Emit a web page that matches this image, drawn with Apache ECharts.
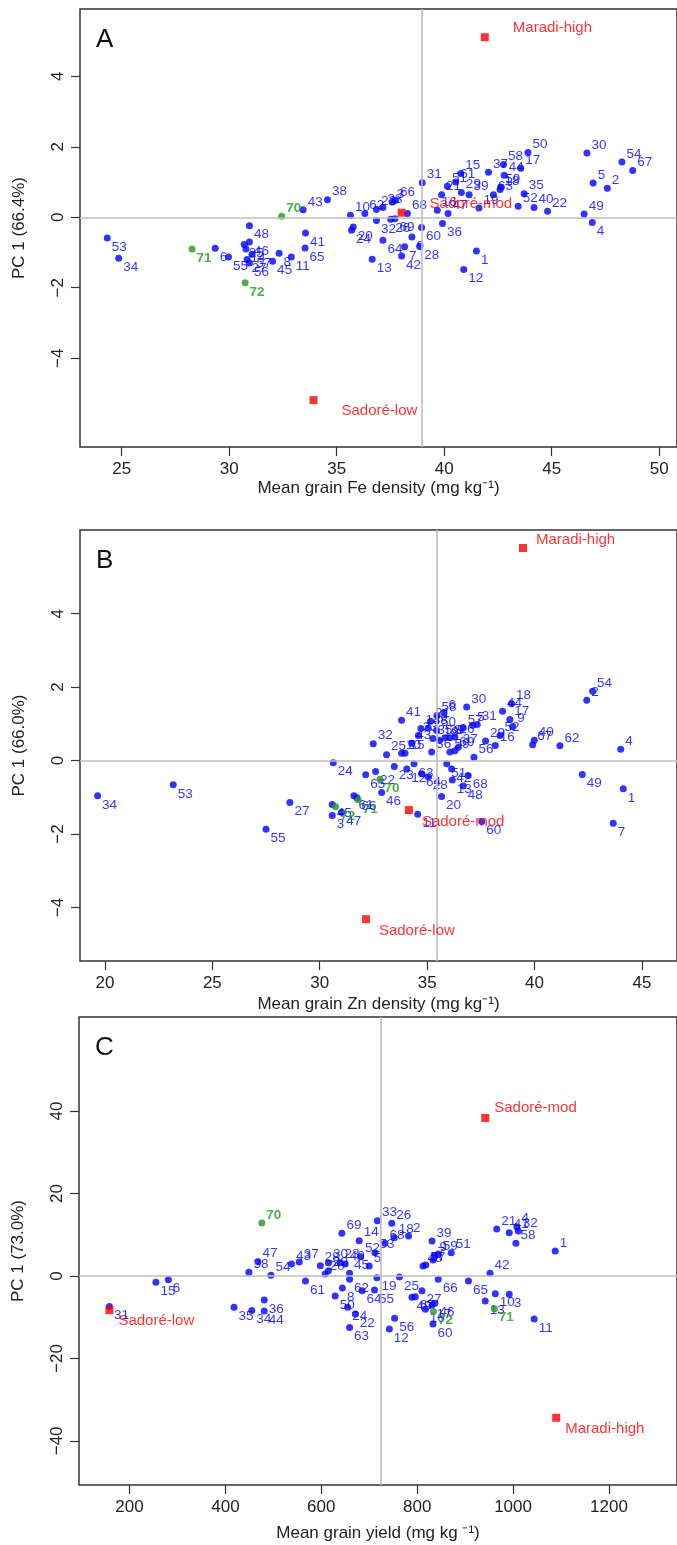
<!DOCTYPE html>
<html><head><meta charset="utf-8">
<script src="https://cdn.jsdelivr.net/npm/echarts@6/dist/echarts.min.js"></script>
<style>html,body{margin:0;padding:0;background:#fff}#c{width:677px;height:1545px}</style>
</head><body><div id="c"></div>
<script>
// ---------- data ----------
const genotype = [1,2,3,4,5,6,7,8,9,10,11,12,13,14,15,16,17,18,19,20,21,22,23,24,25,26,27,28,29,30,31,32,33,34,35,36,37,38,39,40,41,42,43,44,45,46,47,48,49,50,51,52,53,54,55,56,57,58,59,60,61,62,63,64,65,66,67,68,69,70,71,72];

// Panel A : mean grain Fe density vs PC1
const feDensity = [41.50,47.59,37.59,46.89,46.93,29.35,38.16,32.32,38.50,35.64,32.89,40.91,36.65,30.78,40.77,39.68,43.56,42.60,41.62,35.77,39.88,44.81,36.85,35.69,30.70,37.51,30.83,38.86,40.80,46.64,38.98,36.85,37.15,24.86,43.72,39.92,42.06,34.57,41.16,44.18,33.55,38.02,33.44,42.79,32.02,30.94,40.18,30.94,46.51,43.90,40.15,43.44,24.33,48.27,29.97,30.94,31.06,42.76,42.63,38.95,40.54,36.31,42.29,37.15,33.53,37.74,48.77,38.29,37.71,32.44,28.27,30.74];
const pcFe = [-0.96,0.82,0.43,-0.15,0.97,-0.88,-0.84,-1.02,-0.56,0.06,-1.13,-1.48,-1.19,-0.90,1.24,0.20,1.39,0.79,0.26,-0.28,0.64,0.17,0.22,-0.37,-0.77,-0.06,-1.20,-0.82,0.70,1.82,0.98,-0.09,0.28,-1.16,0.67,-0.18,1.28,0.50,0.64,0.28,-0.45,-1.10,0.21,1.19,-1.25,-0.70,0.11,-0.24,0.09,1.84,0.88,0.31,-0.59,1.57,-1.13,-1.30,-1.05,1.50,0.86,-0.29,1.00,0.11,0.64,-0.65,-0.87,0.48,1.33,0.11,-0.04,0.03,-0.90,-1.86];

// Panel B : mean grain Zn density vs PC1
const znDensity = [44.13,42.43,30.58,44.01,37.12,35.78,43.66,36.06,38.98,33.81,34.56,34.05,36.17,34.71,33.97,38.17,38.85,38.93,35.56,35.67,35.16,32.60,33.47,30.63,33.11,36.29,28.61,35.05,37.72,36.84,37.33,32.49,34.59,19.66,35.27,35.21,36.45,35.05,35.83,39.99,33.81,36.14,34.28,38.51,30.58,32.88,31.02,36.68,42.22,35.44,35.91,38.39,23.18,42.70,27.50,37.18,36.68,35.46,36.06,37.54,31.59,41.18,34.39,34.74,32.14,31.73,39.91,36.91,36.29,32.80,31.79,30.74];
const pcZn = [-0.77,1.64,-1.50,0.31,0.96,1.30,-1.71,0.62,0.93,0.20,-1.46,-0.23,-0.53,0.87,0.20,0.41,1.12,1.55,0.55,-0.98,1.07,-0.30,-0.16,-0.06,0.16,0.64,-1.14,-0.44,0.53,1.46,0.98,0.46,0.68,-0.96,0.60,0.23,0.36,0.89,0.62,0.55,1.10,-0.23,0.47,1.34,-1.20,-0.87,-1.41,-0.69,-0.38,0.82,-0.09,0.68,-0.66,1.89,-1.87,0.09,0.89,1.23,0.23,-1.66,-0.96,0.40,-0.09,-0.36,-0.39,-1.01,0.43,-0.41,0.27,-0.51,-1.07,-1.26];

// Panel C : mean grain yield vs PC1
const grainYield = [1088,782,992,1008,700,281,833,644,837,963,1044,742,942,679,255,817,831,752,716,608,966,671,639,655,763,747,810,598,615,615,158,1011,717,455,418,481,554,449,831,650,992,952,538,481,659,837,468,812,789,629,871,682,712,495,711,753,818,1006,844,833,567,659,659,685,907,844,796,733,643,476,961,834];
const pcYield = [6.06,9.70,-4.44,11.95,2.42,-0.90,3.88,-2.91,4.92,-4.29,-10.42,-12.85,-6.06,8.56,-1.53,-8.07,-7.03,9.28,-0.41,0.48,11.39,-9.21,3.22,-7.59,-0.24,12.78,-3.56,2.50,1.28,3.22,-7.44,10.91,13.41,-8.41,-7.59,-5.82,3.39,0.90,8.48,2.91,10.50,0.65,2.91,-8.48,0.65,-6.62,3.47,2.42,-5.16,-4.85,5.65,4.68,5.65,0.17,-3.39,-10.25,2.67,7.93,5.33,-11.64,-1.21,-0.80,-12.53,-3.56,-1.21,-0.80,-5.02,7.93,10.35,12.85,-7.93,-8.65];

// Test sites (red squares)
const sites = ['Maradi-high','Sadoré-mod','Sadoré-low'];
const siteFe = [41.89,38.02,33.92];
const sitePcFe = [5.11,0.13,-5.19];
const siteZn = [39.46,34.15,32.15];
const sitePcZn = [5.79,-1.35,-4.32];
const siteYield = [1090,942,158];
const sitePcYield = [-34.4,38.3,-8.3];

// Reference lines (means)
const meanFe = 38.98, meanZn = 35.44, meanYield = 724;

// Tick labels
const ticksFe = [25,30,35,40,45,50];
const ticksZn = [20,25,30,35,40,45];
const ticksYield = [200,400,600,800,1000,1200];
const ticksPc = [-4,-2,0,2,4];
const ticksPcYield = [-40,-20,0,20,40];

// Genotypes drawn in green
const greenGenotypes = [70,71,72];

// ---------- chart ----------
const FONT = "'Liberation Sans', Arial, Helvetica, sans-serif";
const BLUE = '#0000ff', GREEN = '#1f9a1f', RED = '#ff0000';

const panels = [
  {letter:'A', xs:feDensity, ys:pcFe, sx:siteFe, sy:sitePcFe, mean:meanFe, xt:ticksFe, yt:ticksPc,
   xr:[23.06,50.83], yr:[-6.52,5.91], xName:'Mean grain Fe density (mg kg\u207B\u00B9)', yName:'PC 1 (66.4%)',
   grid:{left:80, top:9, width:597, height:438}, siteGap:24, siteDy:[-9,11], nameGap:33},
  {letter:'B', xs:znDensity, ys:pcZn, sx:siteZn, sy:sitePcZn, mean:meanZn, xt:ticksZn, yt:ticksPc,
   xr:[18.84,46.63], yr:[-5.46,6.28], xName:'Mean grain Zn density (mg kg\u207B\u00B9)', yName:'PC 1 (66.0%)',
   grid:{left:80, top:530, width:597, height:431}, siteGap:9, siteDy:[-8,12], nameGap:35},
  {letter:'C', xs:grainYield, ys:pcYield, sx:siteYield, sy:sitePcYield, mean:meanYield, xt:ticksYield, yt:ticksPcYield,
   xr:[94.6,1342], yr:[-50.7,62.8], xName:'Mean grain yield (mg kg \u207B\u00B9)', yName:'PC 1 (73.0%)',
   grid:{left:79, top:1017, width:598, height:468}, siteGap:5, siteDy:[-10,11], nameGap:40}
];

function ptLabel(y, color, bold) {
  return {show:true, position:'right', distance:1, offset:[0, y >= 0 ? -8 : 9],
          color:color, fontSize:13.5, fontFamily:FONT, fontWeight: bold ? 'bold' : 'normal'};
}

const grids = [], xAxes = [], yAxes = [], series = [], graphics = [];
panels.forEach((p, i) => {
  grids.push(Object.assign({show:true, borderColor:'#333', borderWidth:1.5, backgroundColor:'transparent'}, p.grid));
  xAxes.push({gridIndex:i, type:'value', min:p.xr[0], max:p.xr[1], position:'bottom',
    axisLine:{show:false, onZero:false}, splitLine:{show:false},
    axisTick:{show:true, inside:false, length:9, customValues:p.xt, lineStyle:{color:'#333', width:1.2}},
    axisLabel:{customValues:p.xt, fontSize:17, color:'#222', margin:14, fontFamily:FONT,
      formatter: v => String(v)},
    name:p.xName, nameLocation:'middle', nameGap:p.nameGap,
    nameTextStyle:{fontSize:17, color:'#222', fontFamily:FONT}});
  yAxes.push({gridIndex:i, type:'value', min:p.yr[0], max:p.yr[1], position:'left',
    axisLine:{show:false, onZero:false}, splitLine:{show:false},
    axisTick:{show:true, inside:false, length:9, customValues:p.yt, lineStyle:{color:'#333', width:1.2}},
    axisLabel:{customValues:p.yt, fontSize:17, color:'#222', margin:13, rotate:90, fontFamily:FONT,
      formatter: v => String(v).replace('-', '\u2212')},
    name:p.yName, nameLocation:'middle', nameGap:52,
    nameTextStyle:{fontSize:17, color:'#222', fontFamily:FONT}});

  const blue = [], green = [];
  genotype.forEach((g, k) => {
    const isGreen = greenGenotypes.includes(g);
    const item = {name:String(g), value:[p.xs[k], p.ys[k]],
                  label:ptLabel(p.ys[k], isGreen ? GREEN : BLUE, isGreen)};
    (isGreen ? green : blue).push(item);
  });
  series.push({type:'scatter', xAxisIndex:i, yAxisIndex:i, data:blue, symbolSize:7,
    itemStyle:{color:BLUE}, label:{formatter:'{b}'}, z:3,
    markLine:{silent:true, symbol:'none', animation:false, label:{show:false},
      lineStyle:{color:'#bdbdbd', width:1.6, type:'solid'},
      data:[{xAxis:p.mean}, {yAxis:0}]}});
  series.push({type:'scatter', xAxisIndex:i, yAxisIndex:i, data:green, symbolSize:7,
    itemStyle:{color:GREEN}, label:{formatter:'{b}'}, z:4});
  series.push({type:'scatter', xAxisIndex:i, yAxisIndex:i, symbol:'rect', symbolSize:8, z:5,
    itemStyle:{color:RED},
    data: sites.map((s, k) => ({name:s, value:[p.sx[k], p.sy[k]],
      label:{show:true, position:'right', distance:p.siteGap, offset:[0, p.sy[k] >= 0 ? p.siteDy[0] : p.siteDy[1]],
             color:RED, fontSize:15, fontFamily:FONT}})),
    label:{formatter:'{b}'}});
  graphics.push({type:'text', left:p.grid.left + 16, top:p.grid.top + 18,
    style:{text:p.letter, fontSize:26, fill:'#111', fontFamily:FONT}});
});

const chart = echarts.init(document.getElementById('c'), null, {renderer:'canvas'});
chart.setOption({animation:false, backgroundColor:'#fff',
  grid:grids, xAxis:xAxes, yAxis:yAxes, series:series, graphic:graphics});
</script></body></html>
